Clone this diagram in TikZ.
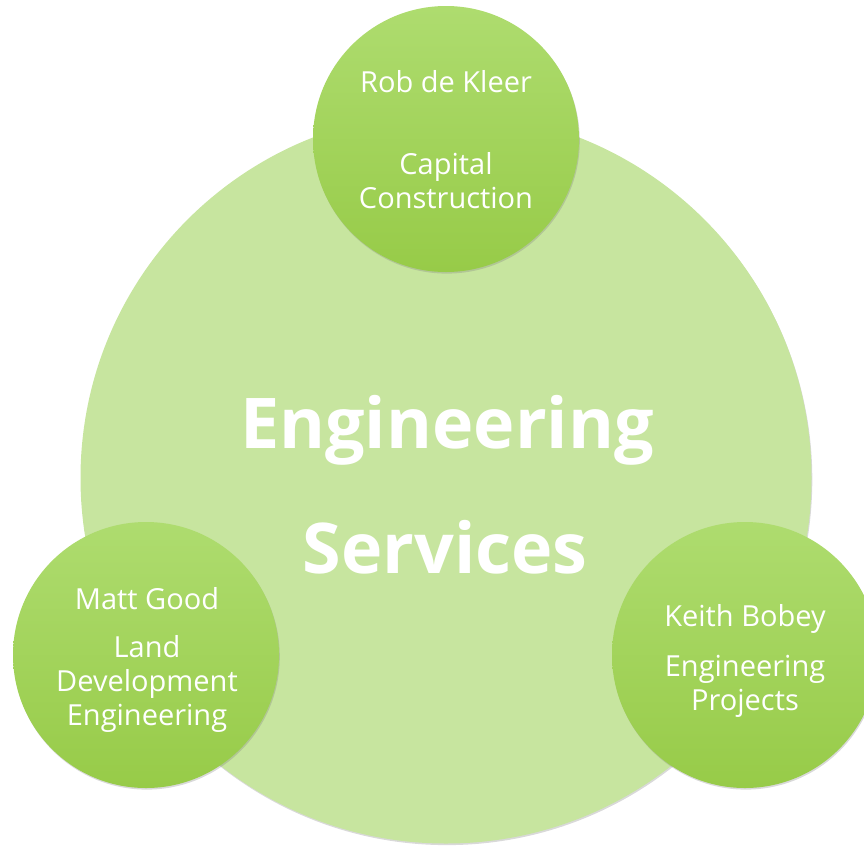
\documentclass[tikz,border=0pt]{standalone}
\usepackage{fontspec}
\setmainfont{Open Sans}
\usetikzlibrary{positioning, shadows}

\definecolor{bigGreen}{HTML}{C7E59F}
\definecolor{topGreen}{HTML}{AEDC6F}
\definecolor{botGreen}{HTML}{97CB48}

\tikzset{
  mainCircle/.style={circle, minimum size=731pt, inner sep=0pt, fill=bigGreen,
    drop shadow={opacity=0.3, shadow xshift=0.8pt, shadow yshift=-1.6pt}},
  teamCircle/.style={circle, minimum size=266pt, inner sep=0pt,
    top color=topGreen, bottom color=botGreen,
    drop shadow={opacity=0.3, shadow xshift=0.8pt, shadow yshift=-1.6pt}},
  leadText/.style={text=white, font=\fontsize{29}{34}\selectfont, align=center, inner sep=0pt},
  titleText/.style={text=white, font=\bfseries\fontsize{70}{80}\selectfont, inner sep=0pt}
}

\begin{document}
\begin{tikzpicture}[x=1pt, y=-1pt]

% Page frame
\useasboundingbox (0,0) rectangle (864,846);
\clip (0,0) rectangle (864,846);

% Centre circle
\node[mainCircle] (services) at (446,478) {};
\node[titleText, anchor=base] (engWord) at (447,448) {Engineering};
\node[titleText, anchor=base] (servWord) at (445,573) {Services};

% Team circles
\foreach \teamName/\cx/\cy in {capital/446/139, landDev/146/655, engProj/745/655}
  \node[teamCircle] (\teamName) at (\cx,\cy) {};

% Leads
\node[leadText, anchor=base] (robName) at (446,92) {Rob de Kleer};
\node[leadText, anchor=base] (mattName) at (147,609) {Matt Good};
\node[leadText, anchor=base] (keithName) at (745,626) {Keith Bobey};

% Groups (anchored on the last line)
\node[leadText, anchor=base] (capitalGroup) at (446,208) {Capital\\Construction};
\node[leadText, anchor=base] (landGroup) at (147,725) {Land\\Development\\Engineering};
\node[leadText, anchor=base] (projGroup) at (745,710) {Engineering\\Projects};

\end{tikzpicture}
\end{document}
